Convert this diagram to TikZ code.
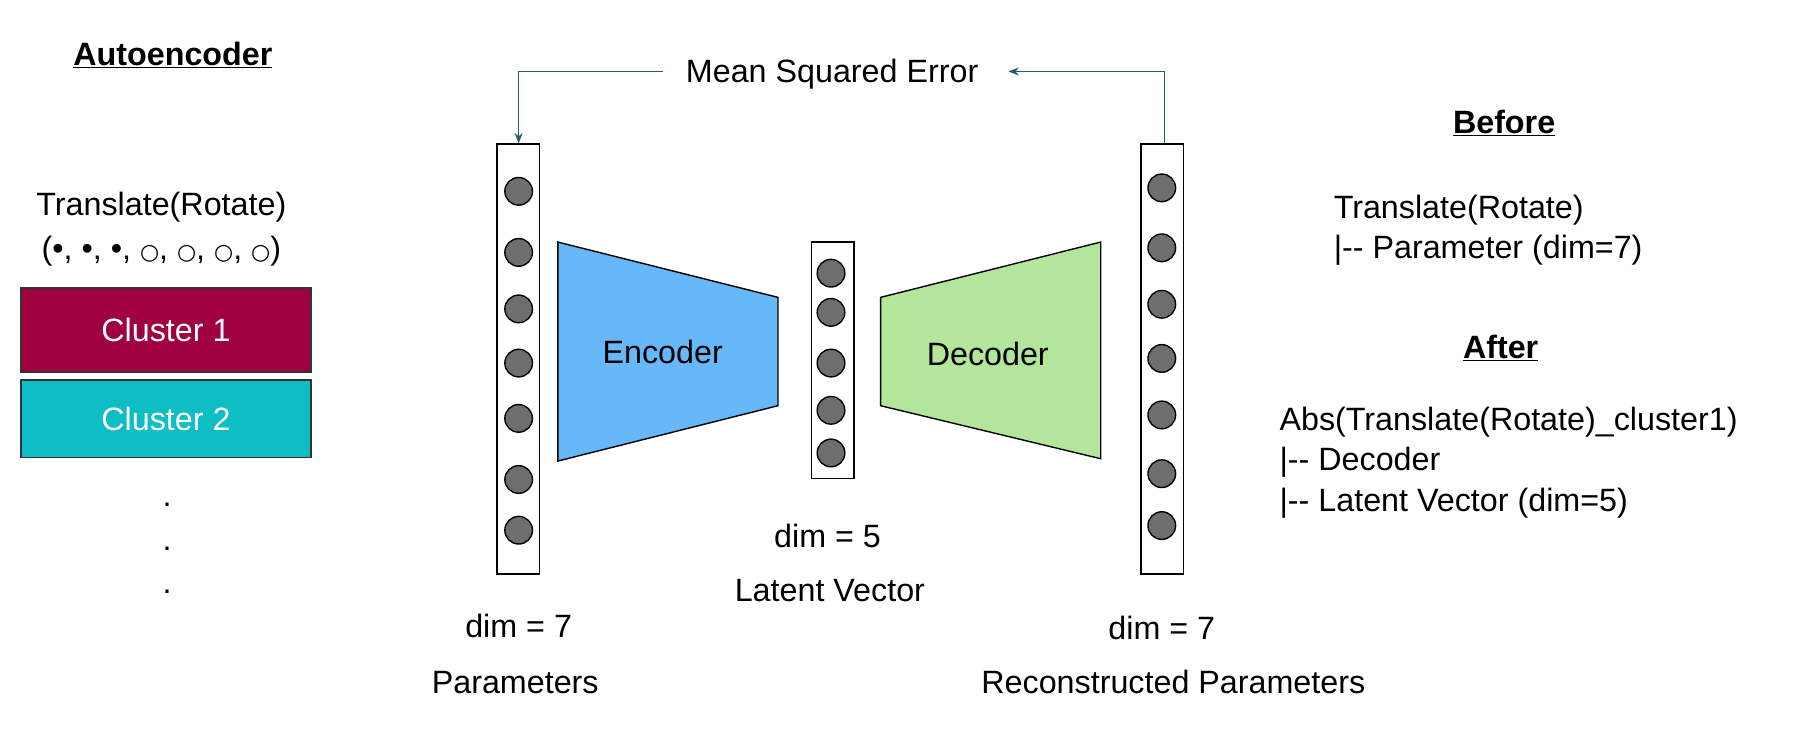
\documentclass[tikz,border=0pt]{standalone}
\usepackage{fontspec}
\setmainfont{Liberation Sans}
\newfontfamily\dvs{DejaVu Sans}
\usetikzlibrary{arrows.meta}
\definecolor{crim}{RGB}{160,0,64}
\definecolor{tealc}{RGB}{13,190,196}
\definecolor{encb}{RGB}{102,184,248}
\definecolor{decg}{RGB}{179,229,154}
\definecolor{fb}{RGB}{30,95,105}
\definecolor{neur}{RGB}{110,110,110}
\newcommand{\smc}{{\dvs\fontsize{19}{20}\selectfont ○}}
\begin{document}
\begin{tikzpicture}[x=1pt,y=-1pt,
  txt/.style={font=\fontsize{28}{32}\selectfont, inner sep=0pt},
  ltxt/.style={txt, anchor=west},
  hd/.style={font=\fontsize{28}{32}\selectfont\bfseries, inner sep=0pt},
  stackbox/.style={draw, line width=1.3pt, fill=white},
  neuron/.style={circle, draw, line width=1.2pt, fill=neur, minimum size=24pt, inner sep=0pt},
  clbox/.style={draw=black!80, line width=1.5pt, minimum width=252pt, inner sep=0pt, text=white, font=\fontsize{28}{32}\selectfont},
  fbline/.style={draw=fb, line width=1pt}]
\useasboundingbox (0,0) rectangle (1560,638);
% left
\node[hd] (ae) at (150,48) {\underline{Autoencoder}};
\node[txt] (tr) at (140,180) {Translate(Rotate)};
\node[txt] (tv) at (140,218) {(•, •, •, \smc, \smc, \smc, \smc)};
\node[clbox, fill=crim, minimum height=73pt] (c1) at (144,286.5) {Cluster 1};
\node[clbox, fill=tealc, minimum height=67pt] (c2) at (144,363.5) {Cluster 2};
\node[txt] (d1) at (145,438) {.};
\node[txt] (d2) at (145,476) {.};
\node[txt] (d3) at (145,513) {.};
% stacks
\node[stackbox, minimum width=37pt, minimum height=373pt, inner sep=0pt] (ls) at (449.5,311.5) {};
\foreach \y [count=\i] in {166,219,268,315,363,416,460} \node[neuron] (ln\i) at (450,\y) {};
\node[stackbox, minimum width=37pt, minimum height=205pt, inner sep=0pt] (ms) at (722.5,312.5) {};
\foreach \y [count=\i] in {237,271,315,356,393} \node[neuron] (mn\i) at (721,\y) {};
\node[stackbox, minimum width=37pt, minimum height=373pt, inner sep=0pt] (rs) at (1008.5,311.5) {};
\foreach \y [count=\i] in {163,215,264,311,360,411,456} \node[neuron] (rn\i) at (1008,\y) {};
% encoder decoder
\draw[fill=encb, line width=1.2pt] (484,210) -- (675,258) -- (675,352) -- (484,400) -- cycle;
\node[txt] (enc) at (575,305) {Encoder};
\draw[fill=decg, line width=1.2pt] (764,258) -- (955,210) -- (955,398) -- (764,352) -- cycle;
\node[txt] (dec) at (857,307) {Decoder};
% feedback
\node[txt] (mse) at (722,64) {Mean Squared Error};
\coordinate (fr) at (1010,62);
\coordinate (fl) at (450,62);
\draw[fbline, -{Stealth[length=9pt,width=7pt]}] (rs.north -| fr) -- (fr) -- (875,62);
\draw[fbline, -{Stealth[length=9pt,width=7pt]}] (575,62) -- (fl) -- (ls.north -| fl);
% labels
\node[txt] (l1) at (450,543) {dim = 7};
\node[txt] (l2) at (447,592) {Parameters};
\node[txt] (l3) at (718,465) {dim = 5};
\node[txt] (l4) at (720,512) {Latent Vector};
\node[txt] (l5) at (1008,545) {dim = 7};
\node[txt] (l6) at (1018,592) {Reconstructed Parameters};
% right
\node[hd] (bf) at (1305,107) {\underline{Before}};
\node[ltxt] (b1) at (1157,182) {Translate(Rotate)};
\node[ltxt] (b2) at (1157,217) {|-{}- Parameter (dim=7)};
\node[hd] (af) at (1302,302) {\underline{After}};
\node[ltxt] (a1) at (1110,366) {Abs(Translate(Rotate)\_cluster1)};
\node[ltxt] (a2) at (1110,401) {|-{}- Decoder};
\node[ltxt] (a3) at (1110,437) {|-{}- Latent Vector (dim=5)};
\end{tikzpicture}
\end{document}
